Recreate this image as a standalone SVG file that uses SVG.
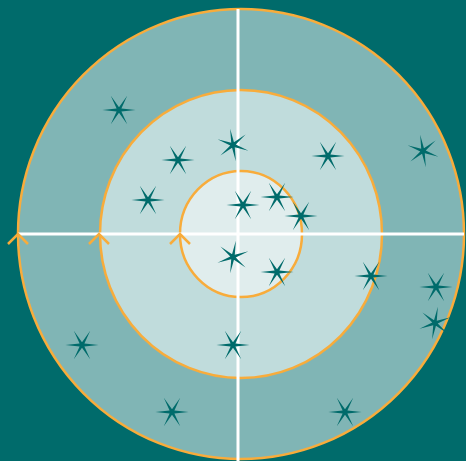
<svg xmlns="http://www.w3.org/2000/svg" width="466" height="461" viewBox="0 0 466 461">
<defs>
<style>
.ring{stroke:#f8ac3b;stroke-width:2.5}
.axis{stroke:#ffffff;stroke-width:3}
.chev{fill:none;stroke:#f8ac3b;stroke-width:2.5;stroke-linecap:butt;stroke-linejoin:miter}
.star{fill:#006b6b}
</style>
<path id="star" d="M16.5,0 L2.4,1.4 L8.2,14.2 L0,2.8 L-8.2,14.2 L-2.4,1.4 L-16.5,0 L-2.4,-1.4 L-8.2,-14.2 L0,-2.8 L8.2,-14.2 L2.4,-1.4 Z"/>
</defs>
<rect x="0" y="0" width="466" height="461" fill="#006b6b"/>
<g id="outer"><ellipse class="ring" cx="241" cy="234" rx="223" ry="225" fill="#80b5b5"/></g>
<g id="middle"><ellipse class="ring" cx="241" cy="234" rx="141" ry="144" fill="#c0dcdc"/></g>
<g id="inner"><ellipse class="ring" cx="241" cy="234" rx="61" ry="63" fill="#e0eded"/></g>
<g id="connectors">
<line class="axis" x1="238" y1="9" x2="238" y2="461"/>
<line class="axis" x1="18" y1="234" x2="464" y2="234"/>
<polyline class="chev" points="8,244 18,234 28,244"/>
<polyline class="chev" points="89,244 99,234 109,244"/>
<polyline class="chev" points="170,244 180,234 190,244"/>
</g>
<g id="stars" class="star">
<use href="#star" transform="translate(119,110)"/>
<use href="#star" transform="translate(178,160)"/>
<use href="#star" transform="translate(148,200)"/>
<use href="#star" transform="translate(233,145) rotate(20)"/>
<use href="#star" transform="translate(243,205)"/>
<use href="#star" transform="translate(277,197)"/>
<use href="#star" transform="translate(301,216)"/>
<use href="#star" transform="translate(233,257) rotate(-20)"/>
<use href="#star" transform="translate(277,272)"/>
<use href="#star" transform="translate(328,156)"/>
<use href="#star" transform="translate(423,151) rotate(20)"/>
<use href="#star" transform="translate(371,276)"/>
<use href="#star" transform="translate(436,287)"/>
<use href="#star" transform="translate(435,323) rotate(-20)"/>
<use href="#star" transform="translate(82,345)"/>
<use href="#star" transform="translate(233,345)"/>
<use href="#star" transform="translate(172,412)"/>
<use href="#star" transform="translate(345,412)"/>
</g>
</svg>
